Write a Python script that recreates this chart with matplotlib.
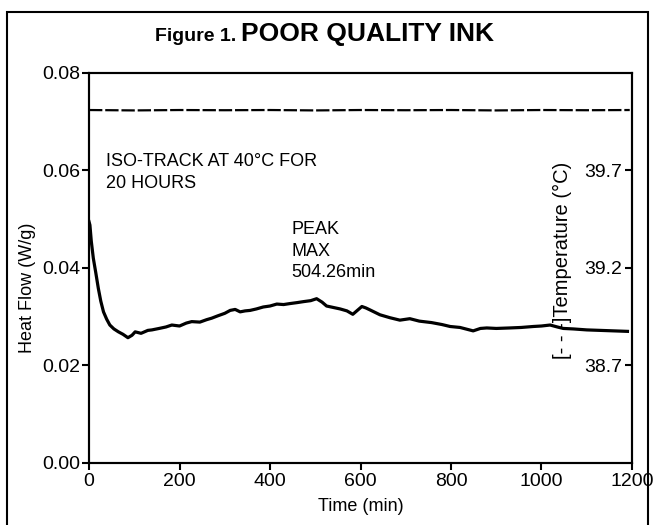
import matplotlib
matplotlib.use('Agg')
import matplotlib.pyplot as plt
from matplotlib.patches import Rectangle

plt.rcParams['font.family'] = ['Liberation Sans', 'DejaVu Sans']

# Heat flow trace
time_min = [0, 2, 5, 9.5, 15, 20.6, 26, 32, 39, 46, 55, 65, 75, 86, 95, 102, 115, 130, 139,
            155, 170, 183, 200, 215, 227, 245, 260, 271, 285, 300, 312, 323, 334, 345, 356,
            370, 385, 400, 415, 430, 444, 460, 474, 490, 503, 515, 525, 540, 555, 570, 583,
            593, 603, 612, 621, 643, 665, 687, 709, 730, 757, 780, 798, 820, 849, 865, 879,
            900, 930, 955, 982, 1000, 1019, 1035, 1048, 1070, 1100, 1130, 1160, 1190]
heat_flow = [0.0495, 0.0488, 0.0455, 0.042, 0.039, 0.0358, 0.0332, 0.031, 0.0295, 0.0283,
             0.0275, 0.0269, 0.0264, 0.0257, 0.0262, 0.0269, 0.0266, 0.0272, 0.0273, 0.0276,
             0.0279, 0.0283, 0.0281, 0.0287, 0.029, 0.0289, 0.0294, 0.0297, 0.0302, 0.0307,
             0.0313, 0.0315, 0.031, 0.0312, 0.0313, 0.0316, 0.032, 0.0322, 0.0326, 0.0325,
             0.0327, 0.0329, 0.0331, 0.0333, 0.0337, 0.0330, 0.0322, 0.0319, 0.0316, 0.0312,
             0.0305, 0.0313, 0.0321, 0.0318, 0.0314, 0.0304, 0.0298, 0.0293, 0.0296, 0.0291,
             0.0288, 0.0284, 0.0280, 0.0278, 0.0271, 0.0276, 0.0277, 0.0276, 0.0277, 0.0278,
             0.0280, 0.0281, 0.0283, 0.0279, 0.0276, 0.0275, 0.0273, 0.0272, 0.0271, 0.0270]

# Temperature trace (right axis)
temp_time = [0, 100, 200, 300, 400, 500, 600, 700, 800, 900, 1000, 1100, 1195]
temperature = [40.010, 40.008, 40.010, 40.009, 40.010, 40.008, 40.010, 40.009, 40.010,
               40.008, 40.010, 40.009, 40.010]

x_ticks = [0, 200, 400, 600, 800, 1000, 1200]
hf_ticks = [0.00, 0.02, 0.04, 0.06, 0.08]
temp_ticks = [38.7, 39.2, 39.7]

fig = plt.figure(figsize=(6.56, 5.25), dpi=100)
ax = fig.add_axes([0.1357, 0.1181, 0.8277, 0.7429])

ax.plot(time_min, heat_flow, color='black', lw=2.3)
ax.set_xlim(0, 1200)
ax.set_ylim(0, 0.08)
ax.set_xticks(x_ticks)
ax.set_yticks(hf_ticks)
ax.set_yticklabels([f'{v:.2f}' for v in hf_ticks])
ax.tick_params(direction='out', length=5, width=1.5, labelsize=14, pad=1)
ax.tick_params(axis='x', pad=2)
for s in ax.spines.values():
    s.set_linewidth(1.5)
ax.set_xlabel('Time (min)', fontsize=13, labelpad=6)
ax.set_ylabel('Heat Flow (W/g)', fontsize=13)
ax.yaxis.set_label_coords(-0.097, 0.45)

ax2 = ax.twinx()
ax2.plot(temp_time, temperature, color='black', lw=1.6, dashes=(6, 1.3))
ax2.set_ylim(38.2, 40.2)
ax2.set_yticks(temp_ticks)
ax2.set_yticklabels([f'{v:.1f}' for v in temp_ticks])
ax2.tick_params(axis='y', direction='in', length=5, width=1.5, labelsize=14, pad=-7)
plt.setp(ax2.get_yticklabels(), ha='right')
for s in ax2.spines.values():
    s.set_linewidth(1.5)

ax2.text(0.872, 0.52, '[- - -]Temperature (\u00b0C)', transform=ax2.transAxes,
         rotation=90, ha='center', va='center', fontsize=14.5)

ax.text(0.032, 0.795, 'ISO-TRACK AT 40\u00b0C FOR\n20 HOURS', transform=ax.transAxes,
        ha='left', va='top', fontsize=13, linespacing=1.4)
ax.text(0.372, 0.62, 'PEAK\nMAX\n504.26min', transform=ax.transAxes,
        ha='left', va='top', fontsize=13, linespacing=1.35)

fig.text(0.368, 0.922, 'Figure 1. ', ha='right', va='baseline', fontsize=14, fontweight='bold')
fig.text(0.368, 0.922, 'POOR QUALITY INK', ha='left', va='baseline', fontsize=19,
         fontweight='bold')

fig.patches.append(Rectangle((0.0107, -0.05), 0.977, 1.027, transform=fig.transFigure,
                             fill=False, lw=1.5, edgecolor='black', clip_on=False))

fig.savefig('out.png', dpi=100)
